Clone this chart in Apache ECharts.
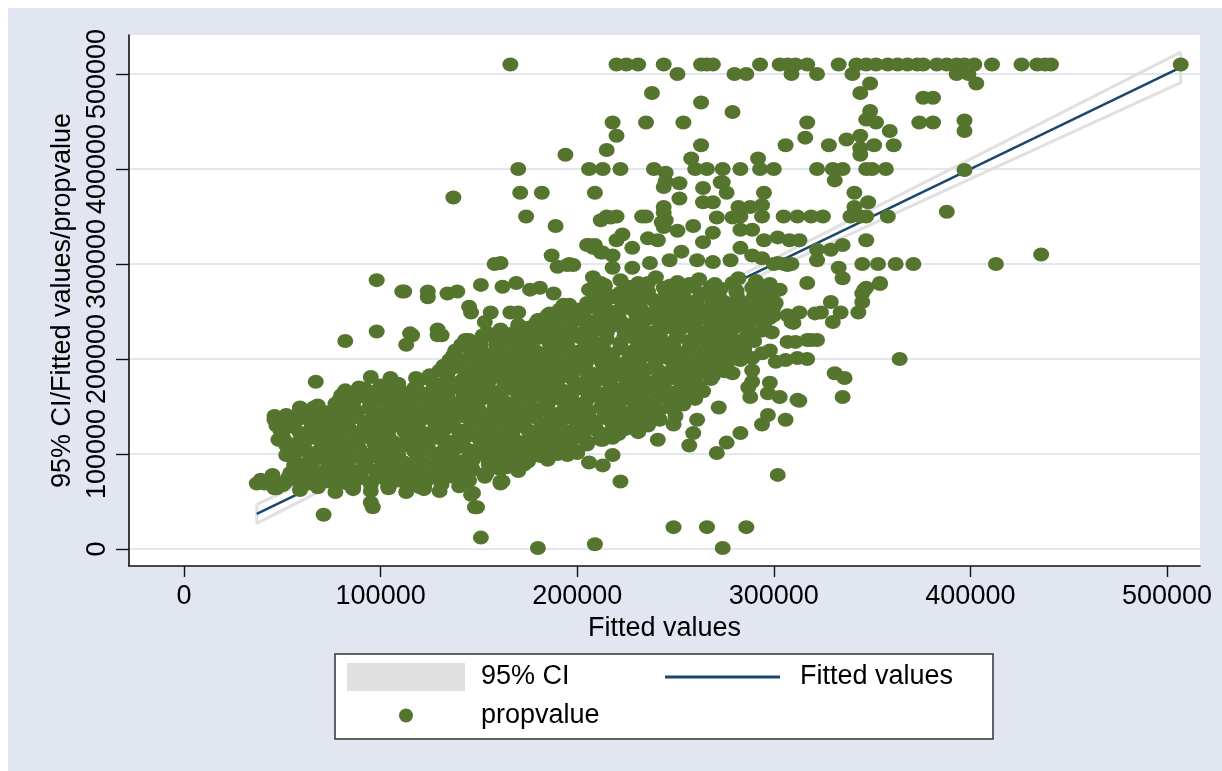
<!DOCTYPE html>
<html><head><meta charset="utf-8">
<script src="https://cdn.jsdelivr.net/npm/echarts@6.0.0/dist/echarts.min.js"></script>
<style>html,body{margin:0;padding:0;background:#fff}#c{width:1222px;height:771px}</style>
</head><body><div id="c"></div>
<script>
// ---------- data ----------
const xTicks = [0, 100000, 200000, 300000, 400000, 500000];
const yTicks = [0, 100000, 200000, 300000, 400000, 500000];

// fitted values line (fitted on fitted => y = x)
const fitX = [37000, 507000];
const fitY = [37000, 507000];

// 95% CI bounds
const ciX    = [37000, 100000, 150000, 215000, 300000, 400000, 507000];
const ciLow  = [27000, 93200, 145500, 212200, 294600, 389600, 491000];
const ciHigh = [47000, 106800, 154500, 217800, 305400, 410400, 523000];

// propvalue observations (x = fitted value, y = propvalue)
const propTop = [
[166000,510000],[220000,510000],[225000,510000],[231000,510000],[244000,510000],[263000,510000],[266000,510000],[269000,510000],[293000,510000],[303000,510000],[307000,510000],[311000,510000],[317000,510000],[333000,510000],[342000,510000],[347000,510000],[352000,510000],[358000,510000],[363000,510000],[368000,510000],[373000,510000],[376000,510000],[383000,510000],[388000,510000],[393000,510000],[397000,510000],[402000,510000],[411000,510000],[426000,510000],[434000,510000],[438000,510000],[441000,510000],[507000,510000],
[251000,500000],[280000,500000],[286000,500000],[309000,500000],[322000,500000],[340000,500000],[393000,500000],[399000,500000]
];
const propUpper = [
[238000,480000],[263000,470000],[279000,460000],[218000,449000],[235000,449000],[254000,449000],[220000,435000],[263000,425000],[215000,420000],[194000,415000],[258000,411000],[292000,411000],[349000,490000],[403000,490000],[344000,480000],[376000,475000],[381000,475000],[349000,461000],[317000,449000],[347000,452000],[352000,449000],[374000,449000],[381000,449000],[397000,451000],[359000,440000],[397000,440000],[316000,433000],[344000,435000],[337000,431000],[306000,425000],[328000,425000],[351000,425000],[361000,425000],[344000,422000],[344000,415000],[137000,370000],
[170000,400000],[206000,400000],[213000,400000],[222000,400000],[239000,400000],[245000,396000],[260000,400000],[266000,400000],[274000,400000],[283000,400000],[293000,400000],[300000,400000],[322000,400000],[330000,400000],[335000,400000],[347000,400000],[350000,400000],[357000,400000],[397000,399000],[331000,388000],
[245000,387000],[244000,381000],[252000,385000],[264000,380000],[274000,386000],[276000,375000],[295000,375000],[252000,369000],[264000,365000],[171000,375000],[182000,375000],[209000,375000],[341000,375000],[348000,365000],[294000,362000],[341000,360000],
[174000,350000],[215000,350000],[220000,350000],[233000,350000],[235000,350000],[244000,354000],[283000,350000],[294000,350000],[305000,350000],[312000,350000],[319000,350000],[325000,350000],[339000,350000],[344000,350000],[347000,350000],[358000,350000],[388000,355000],
[282000,360000],[288000,360000],[189000,340000],[243000,344000],[244000,339000],[251000,335000],[259000,340000],[271000,349000],[279000,349000],[269000,365000],[244000,360000],[273000,386000]
];
const propMid = [
[212000,346000],[217000,349000],[245000,346000],[223000,331000],[220000,325000],[236000,327000],[241000,325000],[264000,323000],[269000,333000],[283000,336000],[289000,336000],[283000,317000],[302000,328000],[308000,325000],[205000,320000],[208000,317000],[213000,312000],[218000,309000],[228000,317000],[187000,309000],[190000,297000],[196000,300000],[237000,301000],[247000,304000],[253000,313000],[261000,304000],[269000,302000],[278000,304000],[289000,309000],[294000,306000],[302000,301000],[307000,299000],[161000,301000],[158000,300000],[295000,325000],[313000,325000],[347000,325000],[322000,315000],[329000,315000],[335000,320000],[322000,304000],[300000,300000],[305000,300000],[309000,300000],[345000,300000],[353000,300000],[362000,300000],[371000,300000],[413000,300000],[436000,310000],[333000,296000],[335000,285000],[317000,280000],[354000,280000],[347000,275000],[345000,269000],[346000,273000],[354000,279000],[329000,260000],[345000,260000],[313000,249000],[324000,249000],[334000,249000],[343000,249000],[299000,246000],[330000,239000],[309000,239000],[317000,220000],[322000,220000],[307000,218000],[317000,200000],[364000,200000],[331000,185000],[336000,180000],[335000,160000],[313000,156000],
[307000,246000],[310000,238000],[299000,228000],[311000,218000],[294000,206000],[298000,209000],[306000,199000],[312000,201000],[283000,199000],[289000,201000],[286000,220000],[289000,227000],[273000,192000],[279000,185000],[289000,176000],[297000,164000],[303000,160000],[312000,157000],[288000,160000],[272000,149000],[297000,141000],[294000,131000],[306000,136000],[283000,122000],[276000,112000],[271000,101000],[261000,136000],[259000,122000],[257000,109000],[249000,131000],[241000,115000],[231000,123000],[218000,99000],[213000,88000],[206000,91000],[222000,71000],[195000,99000],[200000,101000],[185000,109000],[175000,101000],[171000,92000],[162000,71000],[213000,115000],[220000,122000],[228000,128000],[235000,139000],[302000,78000],
[124000,271000],[134000,269000],[139000,271000],[112000,271000],[124000,265000],[151000,278000],[162000,276000],[169000,280000],[176000,273000],[181000,275000],[188000,269000],[145000,255000],[146000,249000],[156000,249000],[166000,249000],[170000,249000],[153000,239000],[154000,228000],[144000,220000],[151000,215000],[115000,227000],[129000,231000],[131000,225000],[162000,220000],[169000,225000],[174000,220000],[181000,227000],[188000,227000],[180000,241000],[186000,248000],[193000,257000],[201000,252000],[205000,234000],[213000,264000],[218000,248000],[227000,257000],[232000,245000],[239000,262000],[247000,260000],[256000,248000],[262000,249000],[271000,249000],[278000,238000],[289000,255000],[297000,260000],[300000,246000],[321000,248000],[319000,220000],[301000,197000],[289000,188000],[298000,175000],[287000,170000],
[195000,299000],[198000,299000],[208000,286000],[212000,280000],[218000,296000],[228000,296000],[209000,320000],[206000,320000],[212000,312000]
];
const propLeft = [
[98000,283000],[111000,271000],[98000,229000],[82000,219000],[116000,225000],[113000,215000],[129000,225000],[143000,220000],[67000,176000],[95000,181000],[92000,169000],[105000,180000],[118000,180000],[124000,180000],[134000,185000],[139000,200000],[145000,200000],[46000,140000],[59000,149000],[86000,159000],[50000,125000],[48000,115000],[55000,136000],[64000,136000],[73000,131000],[83000,136000],[58000,106000],[55000,97000],[69000,96000],[37000,69000],[41000,69000],[46000,64000],[51000,69000],[56000,80000],[63000,69000],[67000,69000],[71000,36000],[95000,49000],[96000,44000],[83000,69000],[87000,73000],[104000,65000],[111000,73000],[79000,83000],[74000,86000],[98000,83000],[93000,94000],[91000,125000],[100000,136000],[107000,154000],[115000,157000],[111000,138000],[122000,143000],[125000,154000],[129000,171000],[135000,149000],[142000,160000],[149000,160000],[142000,115000],[132000,101000],[124000,80000],[134000,91000],[142000,73000],[147000,59000],[148000,44000],[161000,71000],[171000,88000],[55000,133000],[52000,99000],[59000,104000],[68000,97000],[47000,64000],[52000,71000],[76000,76000]
];
const propLow = [
[151000,12000],[180000,1000],[209000,5000],[249000,23000],[266000,23000],[286000,23000],[274000,1000],[149000,44000],[146000,57000],[144000,71000],[161000,69000],[120000,65000]
];
const propCore = [
[222000,283000],[231000,280000],[240000,286000],[251000,281000],[262000,284000],[270000,279000],[282000,285000],[291000,282000],
[206000,273000],[214000,276000],[222000,270000],[229000,274000],[236000,271000],[244000,275000],[252000,272000],[259000,276000],[266000,270000],[273000,274000],[281000,272000],[289000,275000],[296000,271000],[303000,273000],
[212000,262000],[219000,265000],[226000,260000],[233000,263000],[240000,259000],[247000,264000],[254000,261000],[261000,262000],[268000,265000],[275000,260000],[282000,263000],[289000,261000],[296000,264000],[301000,259000],
[191000,252000],[198000,249000],[206000,254000],[213000,251000],[220000,250000],[227000,253000],[234000,249000],[241000,252000],[248000,255000],[255000,250000],[262000,252000],[269000,248000],[276000,253000],[283000,251000],[290000,249000],[297000,252000],
[181000,241000],[188000,244000],[195000,239000],[202000,242000],[209000,240000],[216000,243000],[223000,238000],[230000,241000],[237000,244000],[244000,240000],[251000,242000],[258000,239000],[265000,243000],[272000,240000],[279000,242000],[286000,238000],[293000,241000],[298000,243000],
[161000,231000],[168000,228000],[175000,233000],[182000,230000],[189000,229000],[196000,232000],[203000,228000],[210000,231000],[217000,234000],[224000,229000],[231000,231000],[238000,228000],[245000,233000],[252000,230000],[259000,232000],[266000,229000],[273000,231000],[280000,233000],[287000,228000],[294000,230000],
[145000,220000],[152000,223000],[159000,218000],[166000,221000],[173000,219000],[180000,222000],[187000,218000],[194000,220000],[201000,223000],[208000,219000],[215000,221000],[222000,217000],[229000,222000],[236000,220000],[243000,218000],[250000,221000],[257000,219000],[264000,222000],[271000,220000],[278000,218000],[285000,221000],[290000,219000],
[138000,209000],[145000,212000],[152000,207000],[159000,210000],[166000,208000],[173000,211000],[180000,207000],[187000,209000],[194000,212000],[201000,208000],[208000,210000],[215000,206000],[222000,211000],[229000,209000],[236000,207000],[243000,210000],[250000,208000],[257000,211000],[264000,209000],[271000,207000],[278000,210000],[285000,208000],
[135000,199000],[142000,196000],[149000,201000],[156000,198000],[163000,200000],[170000,197000],[177000,202000],[184000,199000],[191000,196000],[198000,200000],[205000,198000],[212000,201000],[219000,197000],[226000,199000],[233000,202000],[240000,198000],[247000,200000],[254000,197000],[261000,199000],[268000,201000],[275000,198000],[282000,200000],
[130000,188000],[137000,191000],[144000,186000],[151000,189000],[158000,187000],[165000,190000],[172000,186000],[179000,188000],[186000,191000],[193000,187000],[200000,189000],[207000,185000],[214000,190000],[221000,188000],[228000,186000],[235000,189000],[242000,187000],[249000,190000],[256000,188000],[263000,186000],[270000,189000],[275000,187000],
[120000,178000],[127000,175000],[134000,180000],[141000,177000],[148000,179000],[155000,176000],[162000,181000],[169000,178000],[176000,175000],[183000,179000],[190000,177000],[197000,180000],[204000,176000],[211000,178000],[218000,181000],[225000,177000],[232000,179000],[239000,176000],[246000,178000],[253000,180000],[260000,177000],[268000,179000],
[82000,167000],[89000,170000],[96000,165000],[103000,168000],[110000,166000],[117000,169000],[124000,164000],[131000,167000],[138000,170000],[145000,166000],[152000,168000],[159000,165000],[166000,169000],[173000,167000],[180000,164000],[187000,168000],[194000,166000],[201000,169000],[208000,167000],[215000,165000],[222000,168000],[229000,166000],[236000,169000],[243000,167000],[250000,165000],[257000,168000],[264000,166000],
[79000,157000],[86000,154000],[93000,159000],[100000,156000],[107000,158000],[114000,155000],[121000,160000],[128000,157000],[135000,154000],[142000,158000],[149000,156000],[156000,159000],[163000,155000],[170000,157000],[177000,160000],[184000,156000],[191000,158000],[198000,155000],[205000,157000],[212000,159000],[219000,156000],[226000,158000],[233000,155000],[240000,157000],[247000,159000],[254000,156000],[260000,158000],
[59000,146000],[66000,149000],[73000,144000],[80000,147000],[87000,145000],[94000,148000],[101000,143000],[108000,146000],[115000,149000],[122000,145000],[129000,147000],[136000,144000],[143000,148000],[150000,146000],[157000,143000],[164000,147000],[171000,145000],[178000,148000],[185000,146000],[192000,144000],[199000,147000],[206000,145000],[213000,148000],[220000,146000],[227000,144000],[234000,147000],[241000,145000],[248000,148000],
[46000,136000],[53000,133000],[60000,138000],[67000,135000],[74000,137000],[81000,134000],[88000,139000],[95000,136000],[102000,133000],[109000,137000],[116000,135000],[123000,138000],[130000,134000],[137000,136000],[144000,139000],[151000,135000],[158000,137000],[165000,134000],[172000,136000],[179000,138000],[186000,135000],[193000,137000],[200000,134000],[207000,136000],[214000,138000],[221000,135000],[228000,137000],[235000,134000],[242000,136000],
[49000,125000],[56000,128000],[63000,123000],[70000,126000],[77000,124000],[84000,127000],[91000,122000],[98000,125000],[105000,128000],[112000,124000],[119000,126000],[126000,123000],[133000,127000],[140000,125000],[147000,122000],[154000,126000],[161000,124000],[168000,127000],[175000,125000],[182000,123000],[189000,126000],[196000,124000],[203000,127000],[210000,125000],[217000,123000],[224000,126000],[231000,124000],
[51000,115000],[58000,112000],[65000,117000],[72000,114000],[79000,116000],[86000,113000],[93000,118000],[100000,115000],[107000,112000],[114000,116000],[121000,114000],[128000,117000],[135000,113000],[142000,115000],[149000,118000],[156000,114000],[163000,116000],[170000,113000],[177000,115000],[184000,117000],[191000,114000],[198000,116000],[205000,113000],[212000,115000],[218000,117000],
[54000,104000],[61000,107000],[68000,102000],[75000,105000],[82000,103000],[89000,106000],[96000,101000],[103000,104000],[110000,107000],[117000,103000],[124000,105000],[131000,102000],[138000,106000],[145000,104000],[152000,101000],[159000,105000],[166000,103000],[173000,106000],[180000,104000],[187000,102000],[194000,105000],[200000,103000],
[56000,94000],[63000,91000],[70000,96000],[77000,93000],[84000,95000],[91000,92000],[98000,97000],[105000,94000],[112000,91000],[119000,95000],[126000,93000],[133000,96000],[140000,92000],[147000,94000],[154000,97000],[161000,93000],[168000,95000],[175000,92000],[185000,94000],
[56000,83000],[63000,86000],[70000,81000],[77000,84000],[84000,82000],[91000,85000],[98000,80000],[105000,83000],[112000,86000],[119000,82000],[126000,84000],[133000,81000],[140000,85000],[147000,83000],[154000,80000],[161000,84000],[170000,82000],
[39000,73000],[46000,70000],[53000,75000],[60000,72000],[67000,74000],[74000,71000],[81000,76000],[88000,73000],[95000,70000],[102000,74000],[109000,72000],[116000,75000],[123000,71000],[130000,73000],[137000,76000],[145000,72000],
[59000,62000],[68000,65000],[77000,60000],[86000,63000],[95000,61000],[104000,64000],[113000,60000],[122000,63000],[130000,61000]
];
const propCore2 = [
[214000,278000],[226000,276000],[236000,280000],[247000,277000],[257000,279000],[268000,276000],[279000,280000],[290000,277000],[298000,279000],
[209000,268000],[218000,266000],[227000,269000],[236000,267000],[245000,270000],[254000,266000],[263000,269000],[272000,267000],[281000,270000],[290000,266000],[299000,268000],
[196000,257000],[205000,259000],[214000,256000],[223000,258000],[232000,255000],[241000,258000],[250000,256000],[259000,259000],[268000,255000],[277000,258000],[286000,256000],[295000,258000],[300000,255000],
[185000,246000],[194000,248000],[203000,245000],[212000,247000],[221000,244000],[230000,247000],[239000,245000],[248000,248000],[257000,244000],[266000,247000],[275000,245000],[284000,247000],[293000,245000],
[170000,236000],[179000,238000],[188000,235000],[197000,237000],[206000,234000],[215000,237000],[224000,235000],[233000,238000],[242000,234000],[251000,237000],[260000,235000],[269000,237000],[278000,234000],[287000,237000],[295000,235000],
[152000,225000],[161000,227000],[170000,224000],[179000,226000],[188000,223000],[197000,226000],[206000,224000],[215000,227000],[224000,223000],[233000,226000],[242000,224000],[251000,227000],[260000,223000],[269000,226000],[278000,224000],[287000,226000],
[141000,215000],[150000,217000],[159000,214000],[168000,216000],[177000,213000],[186000,216000],[195000,214000],[204000,217000],[213000,213000],[222000,216000],[231000,214000],[240000,216000],[249000,213000],[258000,216000],[267000,214000],[276000,216000],[285000,213000],
[137000,204000],[146000,206000],[155000,203000],[164000,205000],[173000,202000],[182000,205000],[191000,203000],[200000,206000],[209000,202000],[218000,205000],[227000,203000],[236000,205000],[245000,202000],[254000,205000],[263000,203000],[272000,205000],[281000,203000],
[132000,193000],[141000,195000],[150000,192000],[159000,194000],[168000,191000],[177000,194000],[186000,192000],[195000,195000],[204000,191000],[213000,194000],[222000,192000],[231000,194000],[240000,191000],[249000,194000],[258000,192000],[267000,194000],[276000,192000],
[125000,183000],[134000,185000],[143000,182000],[152000,184000],[161000,181000],[170000,184000],[179000,182000],[188000,185000],[197000,181000],[206000,184000],[215000,182000],[224000,184000],[233000,181000],[242000,184000],[251000,182000],[260000,184000],[269000,182000],
[100000,172000],[109000,174000],[118000,171000],[127000,173000],[136000,170000],[145000,173000],[154000,171000],[163000,174000],[172000,170000],[181000,173000],[190000,171000],[199000,173000],[208000,170000],[217000,173000],[226000,171000],[235000,173000],[244000,170000],[253000,173000],[262000,171000],
[80000,162000],[89000,164000],[98000,161000],[107000,163000],[116000,160000],[125000,163000],[134000,161000],[143000,164000],[152000,160000],[161000,163000],[170000,161000],[179000,163000],[188000,160000],[197000,163000],[206000,161000],[215000,163000],[224000,160000],[233000,163000],[242000,161000],[251000,163000],[260000,161000],
[68000,151000],[77000,153000],[86000,150000],[95000,152000],[104000,149000],[113000,152000],[122000,150000],[131000,153000],[140000,149000],[149000,152000],[158000,150000],[167000,152000],[176000,149000],[185000,152000],[194000,150000],[203000,152000],[212000,149000],[221000,152000],[230000,150000],[239000,152000],[247000,150000],[254000,152000],
[52000,141000],[61000,143000],[70000,140000],[79000,142000],[88000,139000],[97000,142000],[106000,140000],[115000,143000],[124000,139000],[133000,142000],[142000,140000],[151000,142000],[160000,139000],[169000,142000],[178000,140000],[187000,142000],[196000,139000],[205000,142000],[214000,140000],[223000,142000],[232000,139000],[241000,142000],[250000,140000],
[47000,130000],[56000,132000],[65000,129000],[74000,131000],[83000,128000],[92000,131000],[101000,129000],[110000,132000],[119000,128000],[128000,131000],[137000,129000],[146000,131000],[155000,128000],[164000,131000],[173000,129000],[182000,131000],[191000,128000],[200000,131000],[209000,129000],[218000,131000],[227000,128000],[236000,130000],
[50000,120000],[59000,122000],[68000,119000],[77000,121000],[86000,118000],[95000,121000],[104000,119000],[113000,122000],[122000,118000],[131000,121000],[140000,119000],[149000,121000],[158000,118000],[167000,121000],[176000,119000],[185000,121000],[194000,118000],[203000,121000],[212000,119000],[221000,121000],
[52000,109000],[61000,111000],[70000,108000],[79000,110000],[88000,107000],[97000,110000],[106000,108000],[115000,111000],[124000,107000],[133000,110000],[142000,108000],[151000,110000],[160000,107000],[169000,110000],[178000,108000],[187000,110000],[196000,107000],[205000,110000],
[55000,99000],[64000,101000],[73000,98000],[82000,100000],[91000,97000],[100000,100000],[109000,98000],[118000,101000],[127000,97000],[136000,100000],[145000,98000],[154000,100000],[163000,97000],[172000,100000],[181000,98000],[190000,100000],
[56000,88000],[65000,90000],[74000,87000],[83000,89000],[92000,86000],[101000,89000],[110000,87000],[119000,90000],[128000,86000],[137000,89000],[146000,87000],[155000,89000],[164000,86000],[173000,89000],
[45000,78000],[54000,80000],[63000,77000],[72000,79000],[81000,76000],[90000,79000],[99000,77000],[108000,80000],[117000,76000],[126000,79000],[135000,77000],[144000,79000],[153000,76000],
[50000,67000],[59000,69000],[68000,66000],[77000,68000],[86000,65000],[95000,68000],[104000,66000],[113000,69000],[122000,65000],[131000,68000],[140000,66000]
];
const propvalue = [].concat(propTop, propUpper, propMid, propLeft, propLow, propCore, propCore2);

// ---------- chart ----------
const FONT = '"Liberation Sans", Arial, Helvetica, sans-serif';
const ciPath = ciX.map((x, i) => [x, ciHigh[i]])
  .concat(ciX.map((x, i) => [x, ciLow[i]]).reverse())
  .concat([[ciX[0], ciHigh[0]]]);
const fitData = fitX.map((x, i) => [x, fitY[i]]);

const chart = echarts.init(document.getElementById('c'), null, {renderer: 'canvas'});
const legendText = {fontSize: 27, color: '#000', fontFamily: FONT};
chart.setOption({
  animation: false,
  backgroundColor: '#E1E6F0',
  graphic: [
    {type: 'rect', shape: {x: 0, y: 0, width: 1222, height: 8}, style: {fill: '#fff'}, silent: true},
    {type: 'rect', shape: {x: 0, y: 0, width: 8, height: 771}, style: {fill: '#fff'}, silent: true},
    {type: 'rect', shape: {x: 335, y: 654, width: 658, height: 85}, style: {fill: '#fff', stroke: '#333', lineWidth: 1.5}, silent: true, z: 1}
  ],
  grid: {left: 129, top: 35, width: 1071, height: 531, show: true, backgroundColor: '#fff', borderWidth: 0, containLabel: false, outerBoundsMode: 'none'},
  xAxis: {
    type: 'value', min: -28000, max: 516800,
    name: 'Fitted values', nameLocation: 'middle', nameGap: 41,
    nameTextStyle: {fontSize: 27, color: '#000', fontFamily: FONT},
    axisLine: {show: true, onZero: false, lineStyle: {color: '#111', width: 1.6}},
    axisTick: {show: true, length: 11, customValues: xTicks, lineStyle: {color: '#111', width: 1.4}},
    axisLabel: {customValues: xTicks, formatter: v => String(v), fontSize: 27, color: '#000', fontFamily: FONT, margin: 17},
    splitLine: {show: false}
  },
  yAxis: {
    type: 'value', min: -17900, max: 541050,
    name: '95% CI/Fitted values/propvalue', nameLocation: 'middle', nameGap: 53,
    nameTextStyle: {fontSize: 27, color: '#000', fontFamily: FONT},
    axisLine: {show: true, onZero: false, lineStyle: {color: '#111', width: 1.6}},
    axisTick: {show: true, length: 13, customValues: yTicks, lineStyle: {color: '#111', width: 1.4}},
    axisLabel: {customValues: yTicks, formatter: v => String(v), rotate: 90, fontSize: 27, color: '#000', fontFamily: FONT, margin: 18},
    splitLine: {show: true, lineStyle: {color: '#E1E6F0', width: 2.2}}
  },
  legend: [
    {data: [{name: '95% CI', icon: 'rect', itemStyle: {color: '#E0E0E0', borderWidth: 0}}], left: 347, top: 663, itemWidth: 118, itemHeight: 28, padding: 0, selectedMode: false, textStyle: Object.assign({padding: [0, 0, 0, 11]}, legendText)},
    {data: [{name: 'Fitted values', icon: 'rect', itemStyle: {color: '#1A476F', borderWidth: 0}}], left: 665, top: 663.5, itemWidth: 115, itemHeight: 3, padding: 0, selectedMode: false, textStyle: Object.assign({padding: [0, 0, 0, 15]}, legendText)},
    {data: [{name: 'propvalue', icon: 'circle'}], left: 399, top: 702, itemWidth: 118, itemHeight: 14, padding: 0, selectedMode: false, textStyle: Object.assign({padding: [0, 0, 0, 11]}, legendText)}
  ],
  series: [
    {name: '95% CI', type: 'line', data: ciPath, symbol: 'none', silent: true, z: 1,
      lineStyle: {color: '#E0E0E0', width: 3}, itemStyle: {color: '#E0E0E0'}},
    {name: 'Fitted values', type: 'line', data: fitData, symbol: 'none', silent: true, z: 2,
      lineStyle: {color: '#1A476F', width: 2.5}, itemStyle: {color: '#1A476F'}},
    {name: 'propvalue', type: 'scatter', data: propvalue, symbol: 'circle', symbolSize: [16, 14], z: 3, large: false,
      itemStyle: {color: '#55752F', opacity: 1}}
  ]
});
</script></body></html>
